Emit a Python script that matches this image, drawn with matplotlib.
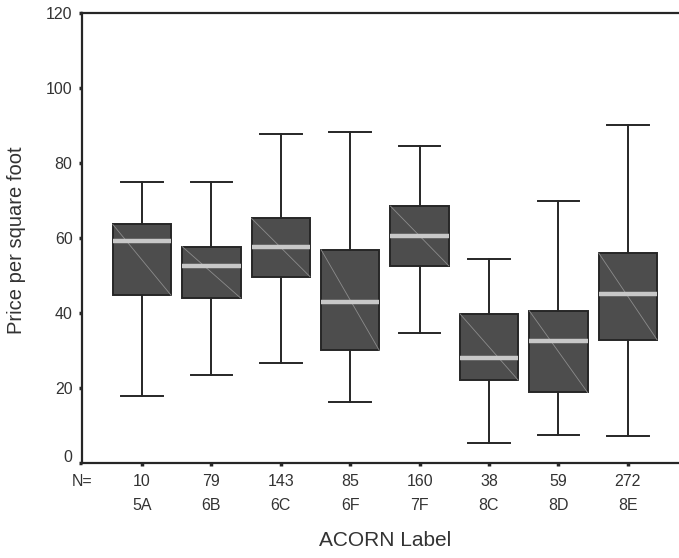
import matplotlib
matplotlib.use("Agg")
import matplotlib.pyplot as plt
import matplotlib.transforms as mtransforms

plt.rcParams['font.family'] = ['Liberation Sans', 'DejaVu Sans']

# data
labels = ['5A', '6B', '6C', '6F', '7F', '8C', '8D', '8E']
counts = [10, 79, 143, 85, 160, 38, 59, 272]
whisker_low = [17.9, 23.4, 26.7, 16.3, 34.7, 5.3, 7.5, 7.1]
q1 = [44.7, 44.0, 49.7, 30.0, 52.6, 22.1, 18.8, 32.9]
medians = [59.2, 52.4, 57.5, 42.8, 60.4, 27.9, 32.4, 45.0]
q3 = [63.6, 57.7, 65.2, 56.9, 68.5, 39.8, 40.6, 56.0]
whisker_high = [74.8, 74.8, 87.7, 88.2, 84.5, 54.4, 69.9, 90.0]

positions = list(range(1, len(labels) + 1))
box_w = 0.84
txt_col = '#333333'
fs = 11.5

fig = plt.figure(figsize=(6.79, 5.58), dpi=100)
ax = fig.add_axes([0.1212, 0.1703, 0.8913, 0.8064])

stats = []
for i in range(len(labels)):
    stats.append({'whislo': whisker_low[i], 'q1': q1[i], 'med': medians[i],
                  'q3': q3[i], 'whishi': whisker_high[i], 'fliers': []})

ax.bxp(stats, positions=positions, widths=box_w, capwidths=0.6,
       patch_artist=True, showfliers=False,
       boxprops=dict(facecolor='#4d4d4d', edgecolor='#262626', linewidth=1.4),
       whiskerprops=dict(color='#262626', linewidth=1.4),
       capprops=dict(color='#262626', linewidth=1.4),
       medianprops=dict(color='#c8c8c8', linewidth=3.2, zorder=4))

# thin diagonal inside each box
for p, lo, hi in zip(positions, q1, q3):
    ax.plot([p - box_w / 2, p + box_w / 2], [hi, lo], color='#8c8c8c',
            linewidth=0.6, zorder=3.5)

ax.set_xlim(1 - 0.86, len(labels) + 0.86)
ax.set_ylim(0, 120)
ax.set_yticks([0, 20, 40, 60, 80, 100, 120])
ax.set_xticks(positions)
ax.set_xticklabels([])

for s in ax.spines.values():
    s.set_linewidth(1.6)
    s.set_color('#262626')

ax.tick_params(axis='both', direction='out', length=2.5, width=2.5,
               color='#262626', labelsize=fs, labelcolor=txt_col)
ax.tick_params(axis='y', pad=4.5)

# nudge the 0 label up a little like the original
for lab in ax.get_yticklabels():
    if lab.get_text() == '0':
        lab.set_transform(lab.get_transform() +
                          mtransforms.ScaledTranslation(0, 7 / 100, fig.dpi_scale_trans))

trans = mtransforms.blended_transform_factory(ax.transData, ax.transAxes)
ax.text(0.14, -0.0422, 'N=', transform=trans, ha='center', va='center',
        fontsize=fs, color=txt_col)
for p, n, lab in zip(positions, counts, labels):
    ax.text(p, -0.0422, str(n), transform=trans, ha='center', va='center',
            fontsize=fs, color=txt_col)
    ax.text(p, -0.0956, lab, transform=trans, ha='center', va='center',
            fontsize=fs, color=txt_col)

fig.text(17 / 679, 1 - 240 / 558, 'Price per square foot', rotation=90,
         ha='center', va='center', fontsize=14.5, color=txt_col)
fig.text(385 / 679, 1 - 541 / 558, 'ACORN Label', ha='center', va='center',
         fontsize=15, color=txt_col)

fig.savefig('out.png', dpi=100)
